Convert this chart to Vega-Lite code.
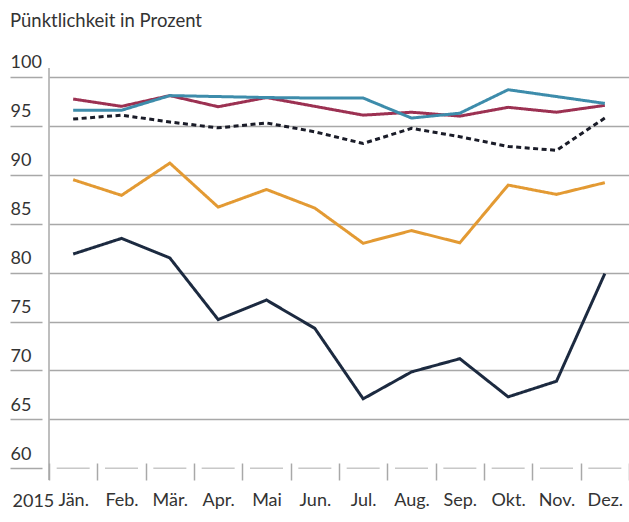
{
  "$schema": "https://vega.github.io/schema/vega-lite/v6.json",
  "width": 580,
  "height": 412,
  "autosize": "none",
  "padding": {"left": 49, "top": 68, "right": 0, "bottom": 42},
  "background": "white",
  "config": {
    "view": {"stroke": null},
    "font": "Lato",
    "axis": {"labelFont": "Lato", "titleFont": "Lato"}
  },
  "title": {
    "text": "Pünktlichkeit in Prozent",
    "anchor": "start",
    "frame": "group",
    "orient": "top",
    "baseline": "alphabetic",
    "offset": 8,
    "dx": -39,
    "fontSize": 18.5,
    "fontWeight": "normal",
    "color": "#333333",
    "font": "Lato"
  },
  "datasets": {
    "werte": [
      {"monat": "Jän.", "serie": "S1", "wert": 97.75},
      {"monat": "Feb.", "serie": "S1", "wert": 97.0},
      {"monat": "Mär.", "serie": "S1", "wert": 98.1},
      {"monat": "Apr.", "serie": "S1", "wert": 96.96},
      {"monat": "Mai", "serie": "S1", "wert": 97.9},
      {"monat": "Jun.", "serie": "S1", "wert": 97.0},
      {"monat": "Jul.", "serie": "S1", "wert": 96.1},
      {"monat": "Aug.", "serie": "S1", "wert": 96.4},
      {"monat": "Sep.", "serie": "S1", "wert": 96.0},
      {"monat": "Okt.", "serie": "S1", "wert": 96.9},
      {"monat": "Nov.", "serie": "S1", "wert": 96.4},
      {"monat": "Dez.", "serie": "S1", "wert": 97.1},
      {"monat": "Jän.", "serie": "S2", "wert": 96.6},
      {"monat": "Feb.", "serie": "S2", "wert": 96.6},
      {"monat": "Mär.", "serie": "S2", "wert": 98.1},
      {"monat": "Apr.", "serie": "S2", "wert": 98.0},
      {"monat": "Mai", "serie": "S2", "wert": 97.9},
      {"monat": "Jun.", "serie": "S2", "wert": 97.85},
      {"monat": "Jul.", "serie": "S2", "wert": 97.85},
      {"monat": "Aug.", "serie": "S2", "wert": 95.8},
      {"monat": "Sep.", "serie": "S2", "wert": 96.3},
      {"monat": "Okt.", "serie": "S2", "wert": 98.7},
      {"monat": "Nov.", "serie": "S2", "wert": 98.0},
      {"monat": "Dez.", "serie": "S2", "wert": 97.3},
      {"monat": "Jän.", "serie": "S3", "wert": 95.7},
      {"monat": "Feb.", "serie": "S3", "wert": 96.1},
      {"monat": "Mär.", "serie": "S3", "wert": 95.4},
      {"monat": "Apr.", "serie": "S3", "wert": 94.8},
      {"monat": "Mai", "serie": "S3", "wert": 95.3},
      {"monat": "Jun.", "serie": "S3", "wert": 94.4},
      {"monat": "Jul.", "serie": "S3", "wert": 93.2},
      {"monat": "Aug.", "serie": "S3", "wert": 94.75},
      {"monat": "Sep.", "serie": "S3", "wert": 93.9},
      {"monat": "Okt.", "serie": "S3", "wert": 92.9},
      {"monat": "Nov.", "serie": "S3", "wert": 92.5},
      {"monat": "Dez.", "serie": "S3", "wert": 95.8},
      {"monat": "Jän.", "serie": "S4", "wert": 89.5},
      {"monat": "Feb.", "serie": "S4", "wert": 87.9},
      {"monat": "Mär.", "serie": "S4", "wert": 91.2},
      {"monat": "Apr.", "serie": "S4", "wert": 86.7},
      {"monat": "Mai", "serie": "S4", "wert": 88.5},
      {"monat": "Jun.", "serie": "S4", "wert": 86.6},
      {"monat": "Jul.", "serie": "S4", "wert": 83.0},
      {"monat": "Aug.", "serie": "S4", "wert": 84.3},
      {"monat": "Sep.", "serie": "S4", "wert": 83.05},
      {"monat": "Okt.", "serie": "S4", "wert": 88.95},
      {"monat": "Nov.", "serie": "S4", "wert": 88.0},
      {"monat": "Dez.", "serie": "S4", "wert": 89.2},
      {"monat": "Jän.", "serie": "S5", "wert": 81.9},
      {"monat": "Feb.", "serie": "S5", "wert": 83.5},
      {"monat": "Mär.", "serie": "S5", "wert": 81.5},
      {"monat": "Apr.", "serie": "S5", "wert": 75.2},
      {"monat": "Mai", "serie": "S5", "wert": 77.2},
      {"monat": "Jun.", "serie": "S5", "wert": 74.3},
      {"monat": "Jul.", "serie": "S5", "wert": 67.1},
      {"monat": "Aug.", "serie": "S5", "wert": 69.85},
      {"monat": "Sep.", "serie": "S5", "wert": 71.2},
      {"monat": "Okt.", "serie": "S5", "wert": 67.3},
      {"monat": "Nov.", "serie": "S5", "wert": 68.9},
      {"monat": "Dez.", "serie": "S5", "wert": 79.9}
    ],
    "monate": [
      {"monat": "Jän."}, {"monat": "Feb."}, {"monat": "Mär."}, {"monat": "Apr."},
      {"monat": "Mai"}, {"monat": "Jun."}, {"monat": "Jul."}, {"monat": "Aug."},
      {"monat": "Sep."}, {"monat": "Okt."}, {"monat": "Nov."}, {"monat": "Dez."}
    ]
  },
  "layer": [
    {
      "data": {"name": "monate"},
      "mark": {"type": "tick", "color": "#b0b0b0", "thickness": 1.5, "size": 33},
      "encoding": {
        "x": {"field": "monat", "type": "nominal", "sort": null},
        "y": {"datum": 60, "type": "quantitative"}
      }
    },
    {
      "data": {"name": "monate"},
      "transform": [{"filter": "datum.monat == 'Jän.'"}],
      "mark": {"type": "rule", "color": "#a8a8a8", "strokeWidth": 1.5},
      "encoding": {
        "x": {"field": "monat", "type": "nominal", "sort": null, "bandPosition": 0}
      }
    },
    {
      "data": {"name": "werte"},
      "mark": {"type": "line", "strokeWidth": 3, "strokeJoin": "miter", "strokeCap": "butt"},
      "encoding": {
        "x": {
          "field": "monat",
          "type": "nominal",
          "sort": null,
          "bandPosition": 0.5,
          "scale": {
            "type": "band",
            "domain": ["Jän.", "Feb.", "Mär.", "Apr.", "Mai", "Jun.", "Jul.", "Aug.", "Sep.", "Okt.", "Nov.", "Dez."],
            "paddingInner": 0,
            "paddingOuter": 0
          },
          "axis": {
            "orient": "bottom",
            "bandPosition": 0.5,
            "domain": false,
            "ticks": true,
            "tickBand": "extent",
            "tickSize": -17,
            "tickColor": "#a8a8a8",
            "tickWidth": 1.5,
            "labelAngle": 0,
            "labelAlign": "center",
            "labelFontSize": 18,
            "labelColor": "#333333",
            "labelPadding": 28,
            "labelBaseline": "top",
            "title": "2015",
            "titleFontSize": 18,
            "titleFontWeight": "normal",
            "titleColor": "#333333",
            "titleAlign": "left",
            "titleAnchor": "start",
            "titleBaseline": "alphabetic",
            "titleX": -37,
            "titleY": 26
          }
        },
        "y": {
          "field": "wert",
          "type": "quantitative",
          "scale": {"domain": [58.8, 100.92], "nice": false, "zero": false},
          "axis": {
            "orient": "left",
            "values": [60, 65, 70, 75, 80, 85, 90, 95, 100],
            "offset": 7,
            "domain": false,
            "ticks": true,
            "tickSize": 32,
            "tickColor": "#a8a8a8",
            "tickWidth": 1.5,
            "grid": true,
            "gridColor": "#a8a8a8",
            "gridWidth": 1.5,
            "gridOpacity": {"condition": {"test": "datum.value == 60", "value": 0}, "value": 1},
            "labelAlign": "left",
            "labelBaseline": "alphabetic",
            "labelPadding": 0,
            "labelOffset": -9,
            "labelFontSize": 18,
            "labelColor": "#333333",
            "title": null
          }
        },
        "color": {
          "field": "serie",
          "type": "nominal",
          "scale": {"domain": ["S4", "S5", "S3", "S1", "S2"], "range": ["#e39a33", "#1c2a40", "#1a1c28", "#9c3152", "#3d8cab"]},
          "legend": null
        },
        "strokeDash": {
          "field": "serie",
          "type": "nominal",
          "scale": {"domain": ["S4", "S5", "S3", "S1", "S2"], "range": [[1, 0], [1, 0], [5, 3.5], [1, 0], [1, 0]]},
          "legend": null
        }
      }
    }
  ]
}
